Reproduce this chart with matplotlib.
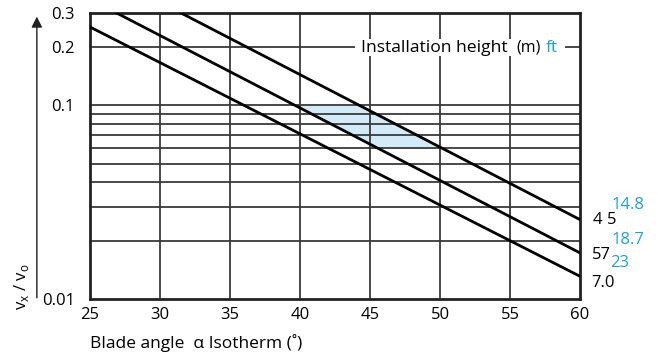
import numpy as np
import matplotlib
matplotlib.use("Agg")
import matplotlib.pyplot as plt

plt.rcParams['font.family'] = ['Open Sans', 'DejaVu Sans']

# three installation heights, straight lines in log space
line_angles = [[25, 60], [26.9, 60], [31.5, 60]]
line_ratio = [[0.254, 0.0131], [0.3, 0.0173], [0.3, 0.0257]]

heights_m = ['7.0', '57', '4 5']
heights_ft = ['23', '18.7', '14.8']

yticks = [0.01, 0.1, 0.2, 0.3]
ytick_labels = ['0.01', '0.1', '0.2', '0.3']
grid_y = [0.02, 0.03, 0.04, 0.05, 0.06, 0.07, 0.08, 0.09, 0.1, 0.2]
xticks = [25, 30, 35, 40, 45, 50, 55, 60]
shade_band = [0.06, 0.1]

blue = '#1aa3e0'
grid_c = '#3a3a3a'
fs = 12

fig = plt.figure(figsize=(6.58, 3.63), dpi=100)
ax = fig.add_axes([0.1368, 0.1763, 0.7447, 0.7879])
ax.set_yscale('log')
ax.set_xlim(25, 60)
ax.set_ylim(0.01, 0.3)

for g in grid_y:
    ax.axhline(g, color=grid_c, lw=1.3, zorder=1)
for g in xticks[1:-1]:
    ax.axvline(g, color=grid_c, lw=1.3, zorder=1)


def x_at(i, y):
    xs = line_angles[i]
    ly = np.log10(line_ratio[i])
    return np.interp(np.log10(y), ly[::-1], xs[::-1])


yy = np.geomspace(shade_band[0], shade_band[1], 50)
ax.fill_betweenx(yy, x_at(1, yy), x_at(2, yy), color='#d3ebf8', zorder=0.5, lw=0)

for xs, ys in zip(line_angles, line_ratio):
    ax.plot(xs, ys, color='black', lw=2, zorder=3)

ax.set_xticks(xticks)
ax.set_xticklabels([str(v) for v in xticks], fontsize=fs)
ax.set_yticks(yticks)
ax.set_yticklabels(ytick_labels, fontsize=fs)
ax.yaxis.set_minor_locator(matplotlib.ticker.NullLocator())
ax.tick_params(length=0, pad=6)
ax.tick_params(axis='y', pad=11)
for s in ax.spines.values():
    s.set_linewidth(2)
    s.set_color('#222222')

# right side labels
fig.text(0.901, 0.395, heights_m[2], fontsize=fs, va='center')
fig.text(0.929, 0.435, heights_ft[2], fontsize=fs, va='center', color=blue)
fig.text(0.899, 0.297, heights_m[1], fontsize=fs, va='center')
fig.text(0.929, 0.338, heights_ft[1], fontsize=fs, va='center', color=blue)
fig.text(0.928, 0.276, heights_ft[0], fontsize=fs, va='center', color=blue)
fig.text(0.899, 0.220, heights_m[0], fontsize=fs, va='center')

# installation height caption over the 0.2 grid line
ax.add_patch(plt.Rectangle((0.541, 0.85), 0.428, 0.058, transform=ax.transAxes,
                           facecolor='white', edgecolor='none', zorder=4))
fig.text(0.549, 0.868, 'Installation height', fontsize=12.6, va='center', zorder=6)
fig.text(0.785, 0.868, '(m)', fontsize=11.5, va='center', zorder=6)
fig.text(0.829, 0.868, 'ft', fontsize=12.6, va='center', color=blue, zorder=6)

# y axis label with arrow
ax.annotate('', xy=(0.056, 0.962), xytext=(0.056, 0.172), xycoords='figure fraction',
            textcoords='figure fraction',
            arrowprops=dict(arrowstyle='-|>', color='#222222', lw=1, mutation_scale=16))
fig.text(0.033, 0.21, r'v$_\mathregular{x}$ / v$_\mathregular{o}$', rotation=90,
         fontsize=fs, va='center', ha='center')

fig.text(0.137, 0.055, 'Blade angle  α Isotherm (˚)', fontsize=12.5, va='center')

fig.savefig('out.png', dpi=100)
